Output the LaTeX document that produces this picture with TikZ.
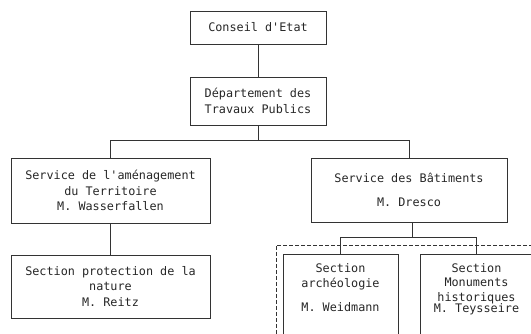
\documentclass[tikz,border=0pt]{standalone}
\usepackage{fontspec}
\setmonofont{DejaVu Sans Mono}
\usepackage{tikz}

\tikzset{
  box/.style={draw=black!80, line width=0.7pt, rectangle, inner sep=0pt, align=center},
  boxtext/.style={inner sep=0pt, align=center, anchor=north, text=black!85},
  link/.style={draw=black!80, line width=0.7pt}
}

\begin{document}
\begin{tikzpicture}[x=1pt, y=-1pt, font=\ttfamily\fontsize{11.8}{15.5}\selectfont, text=black!85]
        % page frame
        \useasboundingbox (0,0) rectangle (531,334);
        \clip (0,0) rectangle (531,334);

        % top levels
        \node[box, minimum width=136, minimum height=33] (conseil) at (258,27.5) {Conseil d'Etat};
        \node[box, minimum width=136, minimum height=48] (dept) at (258,101) {D\'epartement des\\Travaux Publics};

        % services
        \node[box, minimum width=199, minimum height=65] (amen) at (110.5,190.5) {Service de l'am\'enagement\\du Territoire\\M. Wasserfallen};
        \node[box, minimum width=196, minimum height=64] (batim) at (409,190) {Service des B\^atiments\\[9pt]M. Dresco};

        % section under amenagement
        \node[box, minimum width=199, minimum height=63] (nature) at (110.5,286.5) {Section protection de la\\nature\\M. Reitz};

        % dashed frame round the sections of the Batiments
        \draw[black!80, line width=0.7pt, dashed, dash pattern=on 4pt off 2pt] (545,245) -- (276,245) -- (276,350);

        % sections under Batiments
        \node[box, minimum width=115, minimum height=110, anchor=north] (archeo) at (340.5,254) {};
        \node[boxtext] (archeotxt) at ([yshift=-9]archeo.north) {Section\\arch\'eologie\\[8pt]M. Weidmann};
        \node[box, minimum width=125, minimum height=110, anchor=north] (monum) at (482.5,254) {};
        \node[boxtext, font=\ttfamily\fontsize{11.8}{14.5}\selectfont] (monumtxt) at ([xshift=-6,yshift=-9]monum.north) {Section\\Monuments\\historiques\\[-3pt]M. Teysseire};

        % connectors
        \coordinate (fork1) at (258,140);
        \coordinate (fork2) at (412,237);
        \draw[link] (conseil) -- (dept);
        \draw[link] (dept.south) -- (fork1) -| (amen.north);
        \draw[link] (fork1) -| (batim.north);
        \draw[link] (amen) -- (nature);
        \draw[link] (batim.south -| fork2) -- (fork2) -| (archeo.north);
        \draw[link] (fork2) -| ([xshift=-6]monum.north);
    \end{tikzpicture}
\end{document}
